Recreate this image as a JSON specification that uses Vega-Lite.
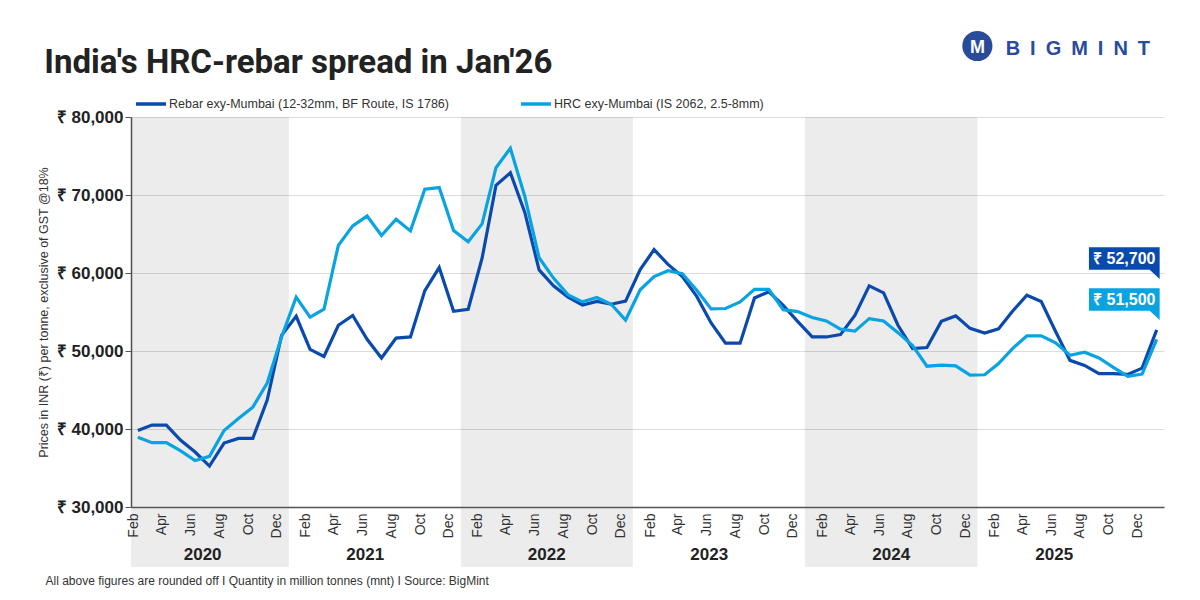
{
  "$schema": "https://vega.github.io/schema/vega-lite/v6.json",
  "width": 1200,
  "height": 600,
  "autosize": {"type": "fit", "contains": "padding"},
  "padding": {"left": 37, "right": 26, "top": -8, "bottom": 0},
  "background": "white",
  "title": {
    "text": "India's HRC-rebar spread in Jan'26",
    "anchor": "start",
    "frame": "bounds",
    "font": "Roboto",
    "fontSize": 33,
    "fontWeight": "bold",
    "color": "#222222",
    "offset": -49,
    "dx": 7
  },
  "config": {
    "font": "Liberation Sans",
    "view": {"stroke": null},
    "locale": {
      "number": {"decimal": ".", "thousands": ",", "grouping": [3], "currency": ["₹ ", ""]}
    }
  },
  "datasets": {
    "prices": [
      {"month": "2020-02", "Rebar": 39800, "HRC": 38950},
      {"month": "2020-03", "Rebar": 40500, "HRC": 38250},
      {"month": "2020-04", "Rebar": 40500, "HRC": 38250},
      {"month": "2020-05", "Rebar": 38550, "HRC": 37200},
      {"month": "2020-06", "Rebar": 37050, "HRC": 35950},
      {"month": "2020-07", "Rebar": 35250, "HRC": 36500},
      {"month": "2020-08", "Rebar": 38200, "HRC": 39800},
      {"month": "2020-09", "Rebar": 38800, "HRC": 41350},
      {"month": "2020-10", "Rebar": 38800, "HRC": 42800},
      {"month": "2020-11", "Rebar": 43700, "HRC": 45900},
      {"month": "2020-12", "Rebar": 52000, "HRC": 51800},
      {"month": "2021-01", "Rebar": 54450, "HRC": 56900},
      {"month": "2021-02", "Rebar": 50200, "HRC": 54350},
      {"month": "2021-03", "Rebar": 49300, "HRC": 55350},
      {"month": "2021-04", "Rebar": 53300, "HRC": 63550},
      {"month": "2021-05", "Rebar": 54550, "HRC": 66050},
      {"month": "2021-06", "Rebar": 51500, "HRC": 67300},
      {"month": "2021-07", "Rebar": 49100, "HRC": 64800},
      {"month": "2021-08", "Rebar": 51650, "HRC": 66900},
      {"month": "2021-09", "Rebar": 51800, "HRC": 65400},
      {"month": "2021-10", "Rebar": 57750, "HRC": 70750},
      {"month": "2021-11", "Rebar": 60700, "HRC": 70950},
      {"month": "2021-12", "Rebar": 55100, "HRC": 65450},
      {"month": "2022-01", "Rebar": 55350, "HRC": 64000},
      {"month": "2022-02", "Rebar": 61900, "HRC": 66300},
      {"month": "2022-03", "Rebar": 71250, "HRC": 73500},
      {"month": "2022-04", "Rebar": 72850, "HRC": 76000},
      {"month": "2022-05", "Rebar": 67800, "HRC": 69850},
      {"month": "2022-06", "Rebar": 60400, "HRC": 61950},
      {"month": "2022-07", "Rebar": 58350, "HRC": 59350},
      {"month": "2022-08", "Rebar": 56900, "HRC": 57200},
      {"month": "2022-09", "Rebar": 55900, "HRC": 56300},
      {"month": "2022-10", "Rebar": 56350, "HRC": 56850},
      {"month": "2022-11", "Rebar": 56000, "HRC": 56000},
      {"month": "2022-12", "Rebar": 56400, "HRC": 53950},
      {"month": "2023-01", "Rebar": 60450, "HRC": 57850},
      {"month": "2023-02", "Rebar": 63000, "HRC": 59550},
      {"month": "2023-03", "Rebar": 61100, "HRC": 60300},
      {"month": "2023-04", "Rebar": 59550, "HRC": 59900},
      {"month": "2023-05", "Rebar": 57000, "HRC": 57800},
      {"month": "2023-06", "Rebar": 53600, "HRC": 55400},
      {"month": "2023-07", "Rebar": 51000, "HRC": 55450},
      {"month": "2023-08", "Rebar": 51000, "HRC": 56300},
      {"month": "2023-09", "Rebar": 56800, "HRC": 57900},
      {"month": "2023-10", "Rebar": 57600, "HRC": 57900},
      {"month": "2023-11", "Rebar": 55850, "HRC": 55300},
      {"month": "2023-12", "Rebar": 53800, "HRC": 55050},
      {"month": "2024-01", "Rebar": 51800, "HRC": 54300},
      {"month": "2024-02", "Rebar": 51800, "HRC": 53850},
      {"month": "2024-03", "Rebar": 52100, "HRC": 52800},
      {"month": "2024-04", "Rebar": 54550, "HRC": 52550},
      {"month": "2024-05", "Rebar": 58350, "HRC": 54150},
      {"month": "2024-06", "Rebar": 57450, "HRC": 53850},
      {"month": "2024-07", "Rebar": 53300, "HRC": 52350},
      {"month": "2024-08", "Rebar": 50300, "HRC": 50700},
      {"month": "2024-09", "Rebar": 50450, "HRC": 48050},
      {"month": "2024-10", "Rebar": 53800, "HRC": 48200},
      {"month": "2024-11", "Rebar": 54500, "HRC": 48100},
      {"month": "2024-12", "Rebar": 52900, "HRC": 46900},
      {"month": "2025-01", "Rebar": 52300, "HRC": 46950},
      {"month": "2025-02", "Rebar": 52850, "HRC": 48400},
      {"month": "2025-03", "Rebar": 55100, "HRC": 50300},
      {"month": "2025-04", "Rebar": 57150, "HRC": 51950},
      {"month": "2025-05", "Rebar": 56350, "HRC": 51950},
      {"month": "2025-06", "Rebar": 52500, "HRC": 51050},
      {"month": "2025-07", "Rebar": 48800, "HRC": 49450},
      {"month": "2025-08", "Rebar": 48150, "HRC": 49850},
      {"month": "2025-09", "Rebar": 47100, "HRC": 49100},
      {"month": "2025-10", "Rebar": 47100, "HRC": 47900},
      {"month": "2025-11", "Rebar": 47000, "HRC": 46750},
      {"month": "2025-12", "Rebar": 47800, "HRC": 47050},
      {"month": "2026-01", "Rebar": 52700, "HRC": 51500}
    ],
    "bands": [
      {"year": 2020, "start": "2020-02", "end": "2021-01"},
      {"year": 2022, "start": "2022-01", "end": "2023-01"},
      {"year": 2024, "start": "2024-01", "end": "2025-01"}
    ],
    "brand": [{"name": "B\u2002I\u2002G\u2002M\u2002I\u2002N\u2002T", "icon": "M"}]
  },
  "resolve": {"axis": {"x": "independent", "y": "independent"}},
  "layer": [
    {
      "data": {"name": "bands"},
      "mark": {"type": "rect", "clip": false, "fill": "#000000", "fillOpacity": 0.075},
      "encoding": {
        "x": {
          "field": "start",
          "type": "temporal",
          "scale": {
            "type": "utc",
            "domain": [
              {"year": 2020, "month": 2, "date": 1, "utc": true},
              {"year": 2026, "month": 2, "date": 1, "utc": true}
            ]
          },
          "axis": {
            "orient": "bottom",
            "title": null,
            "tickCount": {"interval": "month", "step": 1},
            "labelExpr": "(utcmonth(datum.value) % 2 == 1 && utcyear(datum.value) < 2026) ? utcFormat(datum.value, '%b') : ''",
            "labelAngle": 270,
            "labelAlign": "right",
            "labelBaseline": "middle",
            "labelFontSize": 14,
            "labelColor": "#333333",
            "labelPadding": 6,
            "labelOffset": 2.5,
            "labelOverlap": false,
            "labelBound": false,
            "labelFlush": false,
            "ticks": false,
            "grid": false,
            "domain": true,
            "domainColor": "#555555",
            "domainWidth": 1.5,
            "zindex": 1
          }
        },
        "x2": {"field": "end"},
        "y": {
          "datum": 80000,
          "type": "quantitative",
          "scale": {"domain": [30000, 80000], "nice": false, "zero": false},
          "axis": null
        },
        "y2": {"datum": 22300}
      }
    },
    {
      "data": {"name": "prices"},
      "transform": [{"fold": ["Rebar", "HRC"], "as": ["series", "price"]}],
      "mark": {"type": "line", "strokeWidth": 3.2, "strokeJoin": "miter"},
      "encoding": {
        "x": {
          "field": "month",
          "type": "temporal",
          "timeUnit": "utcyearmonth",
          "bandPosition": 0.5,
          "scale": {
            "type": "utc",
            "domain": [
              {"year": 2020, "month": 2, "date": 1, "utc": true},
              {"year": 2026, "month": 2, "date": 1, "utc": true}
            ]
          },
          "axis": {
            "orient": "bottom",
            "title": "All above figures are rounded off  I  Quantity in million tonnes (mnt)  I  Source: BigMint",
            "values": [
              {"year": 2020, "month": 7, "date": 1, "utc": true},
              {"year": 2021, "month": 6, "date": 11, "utc": true},
              {"year": 2022, "month": 7, "date": 1, "utc": true},
              {"year": 2023, "month": 6, "date": 11, "utc": true},
              {"year": 2024, "month": 7, "date": 1, "utc": true},
              {"year": 2025, "month": 6, "date": 12, "utc": true}
            ],
            "labelExpr": "utcFormat(datum.value, '%Y')",
            "labelAngle": 0,
            "labelAlign": "center",
            "labelBaseline": "top",
            "labelFontSize": 17,
            "labelFontWeight": "bold",
            "labelColor": "#222222",
            "labelPadding": 39,
            "labelOverlap": false,
            "labelBound": false,
            "labelFlush": false,
            "ticks": false,
            "domain": false,
            "grid": false,
            "zindex": 1,
            "titleFontSize": 12,
            "titleFontWeight": "normal",
            "titleColor": "#333333",
            "titleAnchor": "start",
            "titleAlign": "left",
            "titleBaseline": "middle",
            "titleX": -86,
            "titleY": 73
          }
        },
        "y": {
          "field": "price",
          "type": "quantitative",
          "scale": {"domain": [30000, 80000], "nice": false, "zero": false},
          "axis": {
            "orient": "left",
            "title": "Prices in INR (₹) per tonne, exclusive of GST @18%",
            "values": [30000, 40000, 50000, 60000, 70000, 80000],
            "labelExpr": "'₹ ' + format(datum.value, ',')",
            "labelFontSize": 17,
            "labelFontWeight": "bold",
            "labelColor": "#222222",
            "labelPadding": 2,
            "tickSize": 6,
            "tickColor": "#555555",
            "domainColor": "#555555",
            "domainWidth": 1.5,
            "grid": true,
            "gridColor": "#dcdcdc",
            "gridWidth": 1,
            "titleFontSize": 12.5,
            "titleFontWeight": "normal",
            "titleColor": "#333333",
            "titlePadding": 6
          }
        },
        "color": {
          "field": "series",
          "type": "nominal",
          "scale": {"domain": ["Rebar", "HRC"], "range": ["#0b4aad", "#0aa3e2"]},
          "legend": {
            "title": null,
            "orient": "top",
            "direction": "horizontal",
            "symbolType": "stroke",
            "symbolSize": 900,
            "symbolStrokeWidth": 3.5,
            "labelFontSize": 12.5,
            "labelColor": "#333333",
            "labelLimit": 400,
            "labelOffset": 1,
            "columnPadding": 65,
            "offset": 3,
            "padding": 3,
            "labelExpr": "datum.label == 'Rebar' ? 'Rebar exy-Mumbai (12-32mm, BF Route, IS 1786)' : 'HRC exy-Mumbai (IS 2062, 2.5-8mm)'"
          }
        }
      }
    },
    {
      "data": {"name": "prices"},
      "transform": [{"filter": "utcyear(datum.month) == 2026"}],
      "mark": {"type": "point", "shape": "M-1,-0.317L1,-0.317L1,0.58L0.717,0.317L-1,0.317Z", "size": 5000, "filled": true, "fill": "#0b4aad", "opacity": 1, "strokeWidth": 0, "xOffset": -32.4, "yOffset": -71.4, "clip": false},
      "encoding": {
        "x": {"field": "month", "type": "temporal", "timeUnit": "utcyearmonth", "bandPosition": 0.5, "axis": null},
        "y": {"field": "Rebar", "type": "quantitative", "axis": null}
      }
    },
    {
      "data": {"name": "prices"},
      "transform": [{"filter": "utcyear(datum.month) == 2026"}],
      "mark": {"type": "text", "fontSize": 16, "fontWeight": "bold", "color": "#ffffff", "align": "center", "baseline": "middle", "xOffset": -32.4, "yOffset": -70.8},
      "encoding": {
        "x": {"field": "month", "type": "temporal", "timeUnit": "utcyearmonth", "bandPosition": 0.5, "axis": null},
        "y": {"field": "Rebar", "type": "quantitative", "axis": null},
        "text": {"field": "Rebar", "type": "quantitative", "format": "$,"}
      }
    },
    {
      "data": {"name": "prices"},
      "transform": [{"filter": "utcyear(datum.month) == 2026"}],
      "mark": {"type": "point", "shape": "M-1,-0.317L1,-0.317L1,0.58L0.717,0.317L-1,0.317Z", "size": 5000, "filled": true, "fill": "#0aa3e2", "opacity": 1, "strokeWidth": 0, "xOffset": -32.4, "yOffset": -39.8, "clip": false},
      "encoding": {
        "x": {"field": "month", "type": "temporal", "timeUnit": "utcyearmonth", "bandPosition": 0.5, "axis": null},
        "y": {"field": "HRC", "type": "quantitative", "axis": null}
      }
    },
    {
      "data": {"name": "prices"},
      "transform": [{"filter": "utcyear(datum.month) == 2026"}],
      "mark": {"type": "text", "fontSize": 16, "fontWeight": "bold", "color": "#ffffff", "align": "center", "baseline": "middle", "xOffset": -32.4, "yOffset": -39.2},
      "encoding": {
        "x": {"field": "month", "type": "temporal", "timeUnit": "utcyearmonth", "bandPosition": 0.5, "axis": null},
        "y": {"field": "HRC", "type": "quantitative", "axis": null},
        "text": {"field": "HRC", "type": "quantitative", "format": "$,"}
      }
    },
    {
      "data": {"name": "brand"},
      "mark": {"type": "point", "shape": "circle", "filled": true, "size": 908, "color": "#2a4b9b", "opacity": 1, "clip": false},
      "encoding": {
        "x": {"datum": {"year": 2025, "month": 1, "date": 1, "utc": true}, "type": "temporal", "axis": null},
        "y": {"datum": 89100, "type": "quantitative", "axis": null}
      }
    },
    {
      "data": {"name": "brand"},
      "mark": {"type": "text", "fontSize": 18, "fontWeight": "bold", "color": "#ffffff", "align": "center", "baseline": "middle", "clip": false, "dy": 2},
      "encoding": {
        "x": {"datum": {"year": 2025, "month": 1, "date": 1, "utc": true}, "type": "temporal", "axis": null},
        "y": {"datum": 89100, "type": "quantitative", "axis": null},
        "text": {"field": "icon"}
      }
    },
    {
      "data": {"name": "brand"},
      "mark": {"type": "text", "fontSize": 20, "fontWeight": "bold", "color": "#2a4b9b", "align": "left", "baseline": "middle", "clip": false},
      "encoding": {
        "x": {"datum": {"year": 2025, "month": 3, "date": 2, "utc": true}, "type": "temporal", "axis": null},
        "y": {"datum": 88700, "type": "quantitative", "axis": null},
        "text": {"field": "name"}
      }
    }
  ]
}
